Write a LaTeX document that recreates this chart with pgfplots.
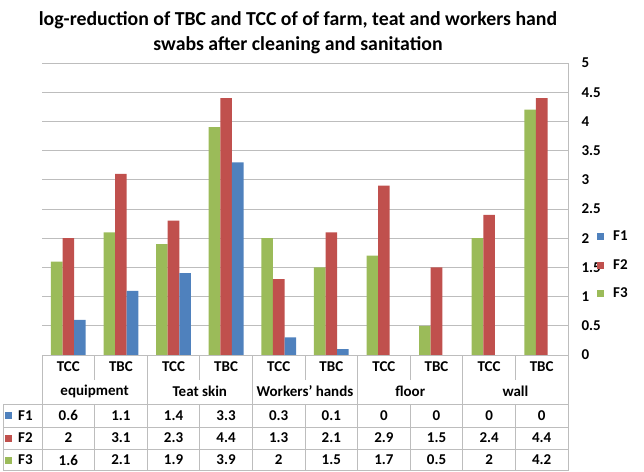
\documentclass[border=0pt]{standalone}
\usepackage{pgfplots}
\pgfplotsset{compat=1.18}
\usepackage{pgfplotstable}
\usepackage{fontspec}
\setmainfont{Carlito}

\definecolor{cF1}{HTML}{4F81BD}
\definecolor{cF2}{HTML}{C0504D}
\definecolor{cF3}{HTML}{9BBB59}
\definecolor{gridc}{HTML}{BDBDBD}

% log-reduction per sample (x = column of the data table)
\pgfplotstableread{
x F1  F2  F3
0 0.6 2   1.6
1 1.1 3.1 2.1
2 1.4 2.3 1.9
3 3.3 4.4 3.9
4 0.3 1.3 2
5 0.1 2.1 1.5
6 0   2.9 1.7
7 0   1.5 0.5
8 0   2.4 2
9 0   4.4 4.2
}\data

\begin{document}
\begin{tikzpicture}[x=1pt,y=1pt,font=\bfseries]
\path[use as bounding box] (0pt,0pt) rectangle (644pt,-471pt);

% title
\node[font=\bfseries\fontsize{19.8}{20}\selectfont] at (298pt,-20pt) {log-reduction of TBC and TCC of of farm, teat and workers hand};
\node[font=\bfseries\fontsize{19.8}{20}\selectfont] at (298pt,-45pt) {swabs after cleaning and sanitation};

\begin{axis}[
  at={(42pt,-355pt)}, anchor=south west,
  scale only axis, width=526pt, height=292pt,
  xmin=-0.5, xmax=9.5, ymin=0, ymax=5,
  ybar=0pt, bar width=11.6pt,
  axis x line=none,
  axis y line*=right,
  y axis line style={draw=gridc, line width=0.9pt, -},
  ytick={0,0.5,1,1.5,2,2.5,3,3.5,4,4.5,5},
  major tick length=0pt,
  ymajorgrids, grid style={gridc, line width=0.9pt},
  /pgf/number format/assume math mode=true,
  yticklabel style={anchor=west, xshift=10pt, font=\bfseries\fontsize{15}{15}\selectfont},
  reverse legend,
  legend image code/.code={\path[#1] (0pt,-3.5pt) rectangle (7pt,3.5pt);},
  legend style={draw=none, fill=none, at={(axis description cs:1.055,0.4315)}, anchor=north west,
    font=\bfseries\fontsize{15}{15}\selectfont, row sep=13pt, column sep=7pt, inner sep=0pt},
  legend cell align=left,
]
\addplot[fill=cF3, draw=none] table[x=x, y=F3] {\data};
\addplot[fill=cF2, draw=none] table[x=x, y=F2] {\data};
\addplot[fill=cF1, draw=none] table[x=x, y=F1] {\data};
\legend{F3,F2,F1}
\end{axis}

% data table under the plot
\begin{scope}[gridc, line width=0.9pt]
  \draw (42,-355) -- (568,-355);
  \foreach \yy in {-404,-427,-449,-470.5} \draw (3,\yy) -- (568,\yy);
  \draw (42,-355) -- (42,-471);
  \draw (3,-404) -- (3,-471);
  \draw (568,-355) -- (568,-471);
  \foreach \g in {1,2,3,4} \draw ({42+105.2*\g},-355) -- ({42+105.2*\g},-471);
  \foreach \g in {0,1,2,3,4} {
    \draw ({94.6+105.2*\g},-355) -- ({94.6+105.2*\g},-380);
    \draw ({94.6+105.2*\g},-404) -- ({94.6+105.2*\g},-471);
  }
\end{scope}

\begin{scope}[font=\bfseries\fontsize{15}{15}\selectfont]
  \foreach \g/\name in {0/equipment,1/Teat skin,2/Workers' hands,3/floor,4/wall} {
    \node at ({42+105.2*\g+26.3},-367) {TCC};
    \node at ({42+105.2*\g+78.9},-367) {TBC};
    \node at ({42+105.2*\g+52.6},-391.5) {\name};
  }
  \foreach \k in {0,...,9} {
    \pgfmathsetmacro\cx{42+52.6*\k+26.3}
    \pgfplotstablegetelem{\k}{F1}\of\data
    \node at (\cx,-415.5) {\pgfplotsretval};
    \pgfplotstablegetelem{\k}{F2}\of\data
    \node at (\cx,-438) {\pgfplotsretval};
    \pgfplotstablegetelem{\k}{F3}\of\data
    \node at (\cx,-460) {\pgfplotsretval};
  }
  \foreach \s/\c/\yy in {F1/cF1/-415.5,F2/cF2/-438,F3/cF3/-460} {
    \fill[\c] (5,\yy-3.5) rectangle (12,\yy+3.5);
    \node[anchor=west, inner sep=0pt] at (18,\yy) {\s};
  }
\end{scope}
\end{tikzpicture}
\end{document}
